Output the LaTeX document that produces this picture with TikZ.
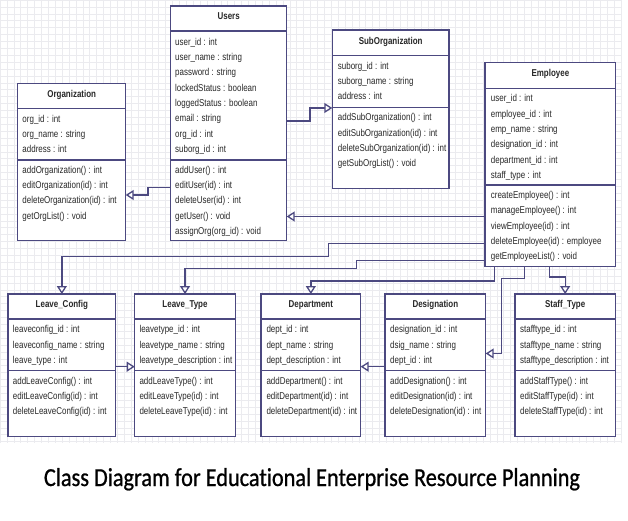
\documentclass[tikz,border=0pt]{standalone}
\usepackage{fontspec}
\setmainfont{Liberation Sans}
\newfontfamily\umlfont{Liberation Sans}[FakeStretch=0.8]
\newfontfamily\captionfont{Carlito}[FakeStretch=0.86, FakeBold=0.8, Ligatures=CommonOff]
\usetikzlibrary{arrows.meta}
\definecolor{umlline}{RGB}{76,73,128}
\definecolor{umltext}{RGB}{40,40,40}
\definecolor{gridc}{RGB}{235,235,239}
\tikzset{
  clsbox/.style={draw=umlline, line width=1.3bp, fill=white, rectangle, inner sep=0pt, outer sep=0pt},
  clssep/.style={draw=umlline, line width=1.2bp},
  clstitle/.style={font=\umlfont\fontsize{10}{11}\selectfont\bfseries, text=umltext, anchor=base, inner sep=0pt},
  attr/.style={font=\umlfont\fontsize{10}{11}\selectfont, text=umltext, anchor=base west, inner sep=0pt},
  gen/.style={draw=umlline, line width=1.3bp, -{Triangle[open, length=8bp, width=10bp, fill=white]}},
  gridline/.style={draw=gridc, line width=0.5bp}
}
\newcommand\classbox[7]{%
  \node[clsbox, anchor=north west, minimum width={(#4-#2)*1bp}, minimum height={(#5-#3)*1bp}] (#1) at (#2,#3) {};
  \draw[clssep] (#1.west |- 0,#6) -- (#1.east |- 0,#6);
  \draw[clssep] (#1.west |- 0,#7) -- (#1.east |- 0,#7);
}
\newcommand\classrows[4]{%
  \foreach \t [count=\i] in {#4} \node[attr] (#1\i) at (#2, {#3+3.5+15.35*(\i-1)}) {\t};
}
\begin{document}
\begin{tikzpicture}[x=1bp, y=-1bp]
\fill[white] (0,0) rectangle (628,521);
\useasboundingbox (0,0) rectangle (628,521);
% grid
\foreach \gx in {0,6.9,...,622} \draw[gridline] (\gx,0) -- (\gx,443);
\foreach \gy in {0,6.9,...,443} \draw[gridline] (0,\gy) -- (622,\gy);

% ---- Users
\classbox{users}{170.7}{6}{286.7}{240.7}{31}{160}
\node[clstitle] (userst) at (228.7,19.8) {Users};
\classrows{usersa}{175}{41.7}{user\_id : int, user\_name : string, password : string, lockedStatus : boolean, loggedStatus : boolean, email : string, org\_id : int, suborg\_id : int}
\classrows{usersm}{175}{169.7}{addUser() : int, editUser(id) : int, deleteUser(id) : int, getUser() : void, assignOrg(org\_id) : void}

% ---- Organization
\classbox{org}{17.7}{83.3}{125.7}{240.7}{108.3}{160}
\node[clstitle] (orgt) at (71.7,97.1) {Organization};
\classrows{orga}{22.3}{118.7}{org\_id : int, org\_name : string, address : int}
\classrows{orgm}{22.3}{169.7}{addOrganization() : int, editOrganization(id) : int, deleteOrganization(id) : int, getOrgList() : void}

% ---- SubOrganization
\classbox{sub}{332.3}{30}{449}{188.3}{55.7}{107.3}
\node[clstitle] (subt) at (390.65,44.2) {SubOrganization};
\classrows{suba}{337.7}{65.7}{suborg\_id : int, suborg\_name : string, address : int}
\classrows{subm}{337.7}{117.3}{addSubOrganization() : int, editSubOrganization(id) : int, deleteSubOrganization(id) : int, getSubOrgList() : void}

% ---- Employee
\classbox{emp}{485}{62.3}{615.7}{266.7}{88.3}{185}
\node[clstitle] (empt) at (550.35,76.6) {Employee};
\classrows{empa}{490.7}{98.3}{user\_id : int, employee\_id : int, emp\_name : string, designation\_id : int, department\_id : int, staff\_type : int}
\classrows{empm}{490.7}{195}{createEmployee() : int, manageEmployee() : int, viewEmployee(id) : int, deleteEmployee(id) : employee, getEmployeeList() : void}

% ---- Leave_Config
\classbox{lc}{8}{294}{115.7}{436.7}{319}{370.7}
\node[clstitle] (lct) at (61.85,307.8) {Leave\_Config};
\classrows{lca}{12.7}{329.3}{leaveconfig\_id : int, leaveconfig\_name : string, leave\_type : int}
\classrows{lcm}{12.7}{380.7}{addLeaveConfig() : int, editLeaveConfig(id) : int, deleteLeaveConfig(id) : int}

% ---- Leave_Type
\classbox{lt}{134.7}{294}{235.3}{436.7}{319}{370.7}
\node[clstitle] (ltt) at (185,307.8) {Leave\_Type};
\classrows{lta}{139.3}{329.3}{leavetype\_id : int, leavetype\_name : string, leavetype\_description : int}
\classrows{ltm}{139.3}{380.7}{addLeaveType() : int, editLeaveType(id) : int, deleteLeaveType(id) : int}

% ---- Department
\classbox{dept}{261}{294}{360.7}{436.7}{319}{370.7}
\node[clstitle] (deptt) at (310.85,307.8) {Department};
\classrows{depta}{266.3}{329.3}{dept\_id : int, dept\_name : string, dept\_description : int}
\classrows{deptm}{266.3}{380.7}{addDepartment() : int, editDepartment(id) : int, deleteDepartment(id) : int}

% ---- Designation
\classbox{desig}{385}{294}{485.7}{436.7}{319}{370.7}
\node[clstitle] (desigt) at (435.35,307.8) {Designation};
\classrows{desiga}{390}{329.3}{designation\_id : int, dsig\_name : string, dept\_id : int}
\classrows{desigm}{390}{380.7}{addDesignation() : int, editDesignation(id) : int, deleteDesignation(id) : int}

% ---- Staff_Type
\classbox{staff}{515}{294}{615.3}{436.7}{319}{370.7}
\node[clstitle] (stafft) at (565.15,307.8) {Staff\_Type};
\classrows{staffa}{520}{329.3}{stafftype\_id : int, stafftype\_name : string, stafftype\_description : int}
\classrows{staffm}{520}{380.7}{addStaffType() : int, editStaffType(id) : int, deleteStaffType(id) : int}

% ---- connectors
\draw[gen] (users.west |- 0,187.5) -- (148,187.5) -- (148,195) -- (org.east |- 0,195);
\draw[gen] (users.east |- 0,121) -- (310,121) -- (310,108) -- (sub.west |- 0,108);
\draw[gen] (emp.west |- 0,216.5) -- (users.east |- 0,216.5);
\draw[gen] (emp.west |- 0,243.5) -- (328.5,243.5) -- (328.5,256.5) -- (lc.north |- 0,256.5) -- (lc.north);
\draw[gen] (emp.west |- 0,260.5) -- (356.5,260.5) -- (356.5,268.5) -- (lt.north |- 0,268.5) -- (lt.north);
\draw[gen] (emp.south -| 494.5,0) -- (494.5,281) -- (dept.north |- 0,281) -- (dept.north);
\draw[gen] (emp.south -| 524.3,0) -- (524.3,278.5) -- (501.5,278.5) -- (501.5,353.5) -- (desig.east |- 0,353.5);
\draw[gen] (emp.south -| 549.5,0) -- (549.5,277) -- (staff.north |- 0,277) -- (staff.north);
\draw[gen] (lc.east |- 0,366.7) -- (lt.west |- 0,366.7);
\draw[gen] (desig.west |- 0,366.7) -- (dept.east |- 0,366.7);

% ---- caption
\node[font=\captionfont\fontsize{26}{28}\selectfont, text=black, anchor=base, inner sep=0pt] (caption) at (312,486) {Class Diagram for Educational Enterprise Resource Planning};
\end{tikzpicture}
\end{document}
